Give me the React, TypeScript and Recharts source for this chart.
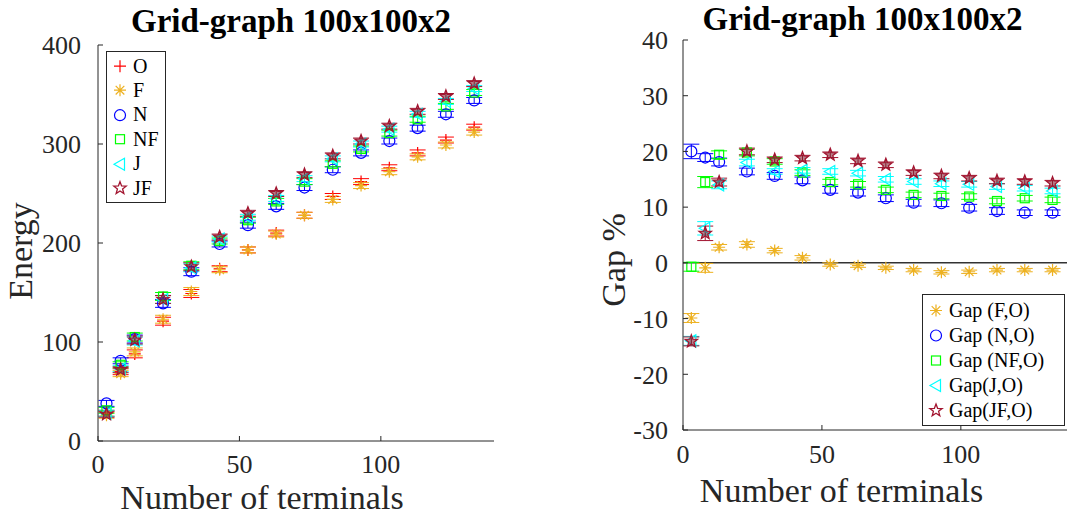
import { ScatterChart, Scatter, XAxis, YAxis, ErrorBar, ReferenceLine, Legend, Label } from 'recharts';

// number of terminals (same for both panels)
const terminals = [3, 8, 13, 23, 33, 43, 53, 63, 73, 83, 93, 103, 113, 123, 133];

// left panel: energy
const energyO = [28, 70, 88, 121, 149, 174, 193, 210, 228, 247, 262, 276, 291, 304, 317];
const energyF = [26, 68, 90, 123, 151, 173, 193, 209, 228, 244, 258, 272, 287, 299, 312];
const energyN = [38, 81, 103, 139, 171, 199, 218, 237, 256, 274, 291, 303, 316, 330, 344];
const energyNF = [31, 77, 105, 146, 177, 202, 223, 242, 262, 280, 295, 311, 325, 338, 352];
const energyJ = [28, 73, 101, 143, 175, 204, 226, 245, 265, 285, 300, 315, 330, 343, 356];
const energyJF = [27, 72, 102, 143, 176, 206, 230, 250, 269, 288, 303, 318, 333, 348, 361];
const energyErr = [3, 3, 4, 4, 4, 3, 3, 3, 3, 3, 3, 3, 3, 3, 3];

// right panel: gap %
const gapF = [-9.9, -0.9, 2.8, 3.3, 2.2, 0.9, -0.3, -0.5, -0.9, -1.3, -1.7, -1.6, -1.3, -1.3, -1.3];
const gapN = [20.0, 18.9, 18.1, 16.4, 15.6, 14.8, 13.1, 12.6, 11.6, 10.8, 10.7, 9.9, 9.3, 9.0, 9.0];
const gapNF = [-0.7, 14.5, 19.4, 19.8, 18.2, 16.2, 14.5, 14.1, 13.1, 12.2, 12.0, 11.9, 11.1, 11.6, 11.3];
const gapJ = [-14.0, 6.2, 14.0, 18.0, 16.4, 16.6, 16.4, 16.1, 15.0, 14.6, 14.2, 14.1, 13.7, 13.4, 12.9];
const gapJF = [-14.1, 5.3, 14.5, 20.0, 18.5, 18.8, 19.4, 18.3, 17.6, 16.2, 15.6, 15.2, 14.7, 14.6, 14.3];
const gapErrF = [0.8, 0.8, 0.5, 0.5, 0.4, 0.4, 0.3, 0.3, 0.3, 0.3, 0.3, 0.3, 0.3, 0.3, 0.3];
const gapErrN = [1.3, 0.7, 0.7, 0.6, 0.6, 0.6, 0.6, 0.6, 0.6, 0.6, 0.6, 0.6, 0.6, 0.5, 0.5];
const gapErrNF = [0.8, 1.0, 0.7, 0.6, 0.5, 0.5, 0.5, 0.5, 0.5, 0.5, 0.5, 0.5, 0.5, 0.5, 0.5];
const gapErrJ = [0.8, 1.2, 0.7, 0.6, 0.5, 0.5, 0.5, 0.5, 0.5, 0.5, 0.5, 0.5, 0.5, 0.5, 0.5];
const gapErrJF = [0.8, 1.3, 0.7, 0.6, 0.5, 0.5, 0.5, 0.5, 0.5, 0.5, 0.5, 0.5, 0.5, 0.5, 0.5];

const xTicks = [0, 50, 100];
const energyTicks = [0, 100, 200, 300, 400];
const gapTicks = [-30, -20, -10, 0, 10, 20, 30, 40];

const TITLE = 'Grid-graph 100x100x2';
const SERIF = '"Liberation Serif", "Times New Roman", serif';
const INK = '#262626';

const RED = '#FF0000';
const GOLD = '#EDB120';
const BLUE = '#0000FF';
const GREEN = '#00FF00';
const CYAN = '#00FFFF';
const MAROON = '#A2142F';

const toPoints = (ys: number[], errs: number[]) => terminals.map((x, i) => ({ x, y: ys[i], e: errs[i] }));

const energySeries = [
  { name: 'O', kind: 'plus', color: RED, data: toPoints(energyO, energyErr) },
  { name: 'F', kind: 'asterisk', color: GOLD, data: toPoints(energyF, energyErr) },
  { name: 'N', kind: 'circle', color: BLUE, data: toPoints(energyN, energyErr) },
  { name: 'NF', kind: 'square', color: GREEN, data: toPoints(energyNF, energyErr) },
  { name: 'J', kind: 'triangle', color: CYAN, data: toPoints(energyJ, energyErr) },
  { name: 'JF', kind: 'star', color: MAROON, data: toPoints(energyJF, energyErr) },
];

const gapSeries = [
  { name: 'Gap (F,O)', kind: 'asterisk', color: GOLD, data: toPoints(gapF, gapErrF) },
  { name: 'Gap (N,O)', kind: 'circle', color: BLUE, data: toPoints(gapN, gapErrN) },
  { name: 'Gap (NF,O)', kind: 'square', color: GREEN, data: toPoints(gapNF, gapErrNF) },
  { name: 'Gap(J,O)', kind: 'triangle', color: CYAN, data: toPoints(gapJ, gapErrJ) },
  { name: 'Gap(JF,O)', kind: 'star', color: MAROON, data: toPoints(gapJF, gapErrJF) },
];

const Marker = ({ kind, cx, cy, color, s = 6, filled = true }: any) => {
  const common = { stroke: color, strokeWidth: 1.2, fill: 'none' };
  if (kind === 'plus') {
    return <path d={`M${cx - s},${cy}H${cx + s}M${cx},${cy - s}V${cy + s}`} {...common} />;
  }
  if (kind === 'asterisk') {
    const d = s * 0.72;
    return (
      <path
        d={`M${cx - s},${cy}H${cx + s}M${cx},${cy - s}V${cy + s}M${cx - d},${cy - d}L${cx + d},${cy + d}M${cx - d},${cy + d}L${cx + d},${cy - d}`}
        {...common}
      />
    );
  }
  if (kind === 'circle') return <circle cx={cx} cy={cy} r={s - 0.5} {...common} />;
  if (kind === 'square') return <rect x={cx - s + 1.5} y={cy - s + 1.5} width={2 * s - 3} height={2 * s - 3} {...common} />;
  if (kind === 'triangle') {
    return <path d={`M${cx - s},${cy}L${cx + s * 0.75},${cy - s}L${cx + s * 0.75},${cy + s}Z`} {...common} />;
  }
  // star
  const pts: string[] = [];
  for (let k = 0; k < 10; k++) {
    const r = k % 2 === 0 ? s + 0.5 : (s + 0.5) * 0.42;
    const a = -Math.PI / 2 + (k * Math.PI) / 5;
    pts.push(`${cx + r * Math.cos(a)},${cy + r * Math.sin(a)}`);
  }
  return (
    <polygon
      points={pts.join(' ')}
      stroke={color}
      strokeWidth={1.3}
      fill={filled ? '#7a1a2a' : 'none'}
      fillOpacity={filled ? 0.55 : 0}
    />
  );
};

// tick labels outside, tick marks pointing into the box
const bottomTick = (gap: number) => (p: any) => (
  <g>
    <line x1={p.x} x2={p.x} y1={p.y - gap} y2={p.y - gap - 5} stroke={INK} />
    <text x={p.x} y={p.y} dy="0.71em" textAnchor="middle" fontFamily={SERIF} fontSize={26} fill={INK}>
      {p.payload.value}
    </text>
  </g>
);

const leftTick = (gap: number) => (p: any) => (
  <g>
    <line x1={p.x + gap} x2={p.x + gap + 5} y1={p.y} y2={p.y} stroke={INK} />
    <text x={p.x} y={p.y} dy="0.355em" textAnchor="end" fontFamily={SERIF} fontSize={26} fill={INK}>
      {p.payload.value}
    </text>
  </g>
);

const LegendBox = ({ items, rowH, padTop }: any) => (
  <div
    style={{
      border: `1px solid ${INK}`,
      background: '#fff',
      paddingTop: padTop,
      paddingBottom: 2,
      paddingRight: 6,
      fontFamily: SERIF,
      fontSize: 20,
      fontWeight: 'normal',
      color: '#000',
    }}
  >
    {items.map((it: any) => (
      <div key={it.name} style={{ display: 'flex', alignItems: 'center', height: rowH, whiteSpace: 'nowrap' }}>
        <svg width={26} height={rowH} style={{ flex: 'none' }}>
          <Marker kind={it.kind} cx={13} cy={rowH / 2} color={it.color} s={6} filled={false} />
        </svg>
        <span style={{ fontWeight: 'normal' }}>{it.name}</span>
      </div>
    ))}
  </div>
);

const axisTitleStyle = { fontFamily: SERIF, fontSize: 34, fill: INK };

const EnergyChart = () => (
  <ScatterChart width={560} height={516} margin={{ top: 45, right: 66, bottom: 0, left: 0 }}>
    <XAxis
      dataKey="x"
      type="number"
      domain={[0, 140]}
      ticks={xTicks}
      height={75}
      tickSize={0}
      tickMargin={14}
      tickLine={false}
      stroke={INK}
      tick={bottomTick(14)}
    >
      <Label
        content={({ viewBox }: any) => (
          <text x={viewBox.x + viewBox.width / 2 - 34} y={viewBox.y + 68} textAnchor="middle" {...axisTitleStyle}>
            Number of terminals
          </text>
        )}
      />
    </XAxis>
    <XAxis xAxisId="top" orientation="top" type="number" domain={[0, 140]} ticks={xTicks} height={0} mirror tick={false} tickSize={5} stroke={INK} />
    <YAxis
      dataKey="y"
      type="number"
      domain={[0, 400]}
      ticks={energyTicks}
      width={98}
      tickSize={0}
      tickMargin={17}
      tickLine={false}
      stroke={INK}
      tick={leftTick(17)}
    >
      <Label
        content={({ viewBox }: any) => {
          const cx = viewBox.x + 32;
          const cy = viewBox.y + viewBox.height / 2 + 8;
          return (
            <text x={cx} y={cy} transform={`rotate(-90 ${cx} ${cy})`} textAnchor="middle" {...axisTitleStyle}>
              Energy
            </text>
          );
        }}
      />
    </YAxis>
    <YAxis yAxisId="right" orientation="right" type="number" domain={[0, 400]} ticks={energyTicks} width={0} mirror tick={false} tickSize={5} stroke={INK} />
    {energySeries.map((s) => (
      <Scatter
        key={s.name}
        name={s.name}
        data={s.data}
        isAnimationActive={false}
        shape={(p: any) => <Marker kind={s.kind} cx={p.cx} cy={p.cy} color={s.color} />}
      >
        <ErrorBar dataKey="e" direction="y" width={8} stroke={s.color} strokeWidth={1} />
      </Scatter>
    ))}
    <Legend
      layout="vertical"
      align="center"
      verticalAlign="middle"
      wrapperStyle={{ left: 106, top: 51, width: 'auto' }}
      content={() => <LegendBox items={energySeries} rowH={24.4} padTop={2} />}
    />
  </ScatterChart>
);

const GapChart = () => (
  <ScatterChart width={560} height={516} margin={{ top: 40, right: 48, bottom: 0, left: 0 }}>
    <XAxis
      dataKey="x"
      type="number"
      domain={[0, 140]}
      ticks={xTicks}
      height={86}
      tickSize={0}
      tickMargin={15}
      tickLine={false}
      stroke={INK}
      tick={bottomTick(15)}
    >
      <Label
        content={({ viewBox }: any) => (
          <text x={viewBox.x + viewBox.width / 2 - 36} y={viewBox.y + 72} textAnchor="middle" {...axisTitleStyle}>
            Number of terminals
          </text>
        )}
      />
    </XAxis>
    <XAxis xAxisId="top" orientation="top" type="number" domain={[0, 140]} ticks={xTicks} height={0} mirror tick={false} tickSize={5} stroke={INK} />
    <YAxis
      dataKey="y"
      type="number"
      domain={[-30, 40]}
      ticks={gapTicks}
      width={123}
      tickSize={0}
      tickMargin={15}
      tickLine={false}
      stroke={INK}
      tick={leftTick(15)}
    >
      <Label
        content={({ viewBox }: any) => {
          const cx = viewBox.x + 65;
          const cy = viewBox.y + viewBox.height / 2 + 25;
          return (
            <text x={cx} y={cy} transform={`rotate(-90 ${cx} ${cy})`} textAnchor="middle" {...axisTitleStyle}>
              Gap %
            </text>
          );
        }}
      />
    </YAxis>
    <YAxis yAxisId="right" orientation="right" type="number" domain={[-30, 40]} ticks={gapTicks} width={0} mirror tick={false} tickSize={5} stroke={INK} />
    <ReferenceLine y={0} stroke="#333" strokeWidth={1.5} />
    {gapSeries.map((s) => (
      <Scatter
        key={s.name}
        name={s.name}
        data={s.data}
        isAnimationActive={false}
        shape={(p: any) => <Marker kind={s.kind} cx={p.cx} cy={p.cy} color={s.color} />}
      >
        <ErrorBar dataKey="e" direction="y" width={8} stroke={s.color} strokeWidth={1} />
      </Scatter>
    ))}
    <Legend
      layout="vertical"
      align="center"
      verticalAlign="middle"
      wrapperStyle={{ left: 362, top: 294, width: 143 }}
      content={() => <LegendBox items={gapSeries} rowH={25} padTop={2.5} />}
    />
  </ScatterChart>
);

export default function App() {
  return (
    <div style={{ position: 'fixed', left: 0, top: 0, width: 1067, height: 516, overflow: 'hidden', background: '#fff' }}>
      <div style={{ position: 'absolute', left: 0, top: 0 }}>
        <EnergyChart />
      </div>
      <div style={{ position: 'absolute', left: 560, top: 0 }}>
        <GapChart />
      </div>
      <svg width={1067} height={516} style={{ position: 'absolute', left: 0, top: 0, pointerEvents: 'none' }}>
        <text x={291} y={31.5} textAnchor="middle" fontFamily={SERIF} fontSize={33} fontWeight="bold" fill="#000">
          {TITLE}
        </text>
        <text x={862.5} y={29.5} textAnchor="middle" fontFamily={SERIF} fontSize={33} fontWeight="bold" fill="#000">
          {TITLE}
        </text>
      </svg>
    </div>
  );
}
